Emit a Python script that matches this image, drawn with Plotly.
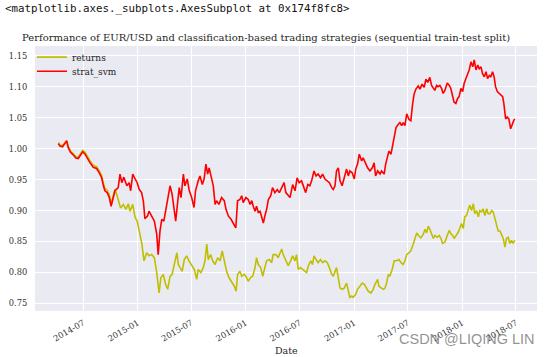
import pandas as pd
import plotly.graph_objects as go

base_date = "2014-07-01"

# strat_svm: (days after 2014-07-01, value)
svm_days = [-84, -79, -70, -62, -56, -51, -43, -34, -25, -17, -9, -2, 6, 14, 23, 34, 45, 54, 62, 68,
            73, 81, 88, 94, 99, 107, 118, 124, 130, 137, 147, 155, 160, 167, 175, 182, 189, 197, 203, 208,
            217, 222, 231, 240, 248, 253, 259, 265, 272, 278, 287, 293, 300, 307, 312, 319, 324, 330, 338, 343,
            351, 358, 366, 374, 379, 388, 394, 402, 408, 414, 420, 425, 433, 439, 445, 450, 458, 467, 476, 482,
            490, 499, 506, 515, 521, 529, 535, 540, 549, 557, 563, 569, 574, 580, 585, 591, 597, 602, 608, 613,
            619, 625, 633, 639, 647, 655, 662, 670, 678, 684, 692, 698, 707, 715, 722, 729, 737, 743, 751, 758,
            765, 771, 779, 786, 793, 801, 808, 816, 824, 831, 839, 844, 850, 855, 861, 867, 874, 881, 889, 895,
            900, 908, 915, 920, 926, 932, 940, 945, 953, 960, 968, 976, 982, 987, 994, 1002, 1007, 1016, 1021, 1028,
            1032, 1039, 1043, 1050, 1056, 1063, 1069, 1075, 1080, 1086, 1092, 1100, 1106, 1112, 1117, 1123, 1131, 1137, 1144, 1151,
            1157, 1163, 1170, 1176, 1182, 1187, 1193, 1198, 1204, 1210, 1215, 1221, 1229, 1236, 1241, 1247, 1252, 1258, 1264, 1269,
            1275, 1281, 1286, 1292, 1298, 1303, 1309, 1315, 1320, 1326, 1332, 1337, 1343, 1348, 1354, 1360, 1365, 1371, 1376, 1382,
            1387, 1392, 1398, 1404, 1410, 1416, 1420, 1426, 1431, 1437, 1443, 1448, 1454, 1457]
svm_vals = [1.008, 1.004, 1.003, 1.008, 1.0125, 1.002, 0.994, 0.990, 0.985, 0.984, 0.989, 0.995, 0.991, 0.984, 0.977, 0.970, 0.968, 0.961, 0.953, 0.940,
            0.932, 0.929, 0.921, 0.907, 0.918, 0.932, 0.937, 0.959, 0.945, 0.954, 0.940, 0.945, 0.932, 0.959, 0.951, 0.945, 0.934, 0.929, 0.915, 0.887,
            0.891, 0.899, 0.891, 0.883, 0.862, 0.829, 0.867, 0.886, 0.883, 0.899, 0.926, 0.940, 0.926, 0.905, 0.883, 0.915, 0.937, 0.921, 0.959, 0.940,
            0.951, 0.932, 0.921, 0.905, 0.932, 0.948, 0.956, 0.942, 0.951, 0.975, 0.959, 0.969, 0.953, 0.940, 0.910, 0.916, 0.910, 0.921, 0.916, 0.902,
            0.891, 0.886, 0.880, 0.872, 0.916, 0.918, 0.924, 0.913, 0.921, 0.918, 0.910, 0.916, 0.907, 0.899, 0.907, 0.897, 0.899, 0.889, 0.880, 0.891,
            0.902, 0.918, 0.924, 0.937, 0.929, 0.934, 0.929, 0.937, 0.945, 0.929, 0.924, 0.921, 0.942, 0.932, 0.953, 0.945, 0.948, 0.940, 0.929, 0.942,
            0.940, 0.948, 0.964, 0.956, 0.959, 0.953, 0.959, 0.951, 0.948, 0.945, 0.937, 0.934, 0.940, 0.964, 0.969, 0.948, 0.940, 0.953, 0.967, 0.956,
            0.964, 0.961, 0.951, 0.967, 0.975, 0.991, 0.980, 0.985, 0.977, 0.969, 0.964, 0.969, 0.977, 0.956, 0.964, 0.959, 0.964, 0.959, 0.975, 0.988,
            0.996, 0.991, 1.002, 1.018, 1.034, 1.039, 1.042, 1.037, 1.042, 1.037, 1.056, 1.047, 1.045, 1.072, 1.088, 1.096, 1.101, 1.096, 1.104, 1.099,
            1.112, 1.107, 1.115, 1.102, 1.097, 1.094, 1.102, 1.100, 1.102, 1.097, 1.089, 1.094, 1.106, 1.102, 1.097, 1.084, 1.075, 1.073, 1.081, 1.084,
            1.097, 1.092, 1.105, 1.113, 1.121, 1.127, 1.140, 1.132, 1.143, 1.127, 1.135, 1.129, 1.132, 1.121, 1.116, 1.124, 1.113, 1.118, 1.116, 1.124,
            1.116, 1.100, 1.092, 1.089, 1.086, 1.084, 1.073, 1.048, 1.051, 1.048, 1.032, 1.040, 1.046, 1.048]

# returns: (days after 2014-07-01, value)
ret_days = [-84, -79, -70, -62, -56, -51, -43, -34, -25, -17, -9, -2, 6, 14, 23, 34, 45, 54, 62, 68,
            73, 81, 88, 94, 99, 107, 113, 118, 126, 135, 144, 152, 158, 167, 175, 182, 191, 198, 205, 208,
            214, 222, 231, 240, 248, 256, 262, 270, 278, 285, 293, 300, 310, 316, 321, 326, 334, 341, 349, 357,
            366, 375, 383, 388, 397, 405, 411, 417, 422, 430, 437, 445, 454, 462, 469, 476, 484, 492, 501, 510,
            516, 521, 529, 535, 543, 549, 557, 565, 572, 580, 585, 591, 599, 606, 613, 619, 628, 636, 641, 651,
            658, 664, 670, 675, 684, 692, 700, 707, 715, 720, 726, 734, 741, 748, 754, 760, 768, 774, 779, 786,
            793, 801, 808, 816, 824, 831, 839, 844, 850, 855, 861, 867, 874, 881, 889, 895, 900, 906, 911, 920,
            926, 934, 942, 949, 957, 962, 971, 979, 985, 994, 998, 1005, 1013, 1019, 1024, 1030, 1035, 1043, 1050, 1058,
            1066, 1073, 1080, 1086, 1092, 1100, 1106, 1112, 1120, 1126, 1133, 1140, 1148, 1154, 1159, 1165, 1170, 1176, 1182, 1187,
            1195, 1202, 1208, 1213, 1221, 1229, 1236, 1241, 1247, 1252, 1260, 1266, 1271, 1277, 1283, 1288, 1294, 1299, 1305, 1311,
            1317, 1322, 1328, 1334, 1339, 1345, 1350, 1356, 1362, 1367, 1373, 1379, 1384, 1390, 1396, 1401, 1407, 1412, 1418, 1424,
            1429, 1435, 1440, 1446, 1451, 1457]
ret_vals = [1.010, 1.006, 1.005, 1.009, 1.013, 1.004, 0.996, 0.992, 0.987, 0.986, 0.991, 0.997, 0.994, 0.987, 0.980, 0.973, 0.971, 0.964, 0.957, 0.944,
            0.936, 0.933, 0.925, 0.911, 0.921, 0.934, 0.926, 0.918, 0.904, 0.910, 0.902, 0.911, 0.899, 0.910, 0.889, 0.883, 0.862, 0.846, 0.819, 0.824,
            0.832, 0.827, 0.829, 0.824, 0.800, 0.767, 0.792, 0.797, 0.781, 0.773, 0.794, 0.797, 0.819, 0.832, 0.813, 0.808, 0.802, 0.821, 0.827, 0.819,
            0.813, 0.805, 0.789, 0.805, 0.800, 0.808, 0.819, 0.846, 0.821, 0.829, 0.819, 0.813, 0.824, 0.819, 0.835, 0.819, 0.802, 0.792, 0.786, 0.778,
            0.770, 0.797, 0.802, 0.794, 0.797, 0.794, 0.786, 0.792, 0.794, 0.808, 0.824, 0.813, 0.808, 0.794, 0.808, 0.819, 0.821, 0.816, 0.829, 0.829,
            0.824, 0.832, 0.838, 0.829, 0.819, 0.811, 0.819, 0.827, 0.819, 0.829, 0.805, 0.808, 0.805, 0.802, 0.800, 0.811, 0.819, 0.813, 0.827, 0.821,
            0.816, 0.821, 0.816, 0.819, 0.816, 0.808, 0.797, 0.794, 0.804, 0.808, 0.792, 0.775, 0.773, 0.775, 0.783, 0.770, 0.760, 0.762, 0.760, 0.765,
            0.773, 0.778, 0.783, 0.781, 0.775, 0.770, 0.767, 0.773, 0.781, 0.789, 0.778, 0.775, 0.773, 0.775, 0.783, 0.797, 0.794, 0.805, 0.819, 0.819,
            0.821, 0.816, 0.813, 0.819, 0.829, 0.832, 0.835, 0.843, 0.854, 0.864, 0.859, 0.856, 0.862, 0.870, 0.864, 0.875, 0.870, 0.863, 0.855, 0.860,
            0.857, 0.860, 0.855, 0.847, 0.849, 0.860, 0.868, 0.863, 0.860, 0.855, 0.860, 0.865, 0.871, 0.879, 0.871, 0.890, 0.892, 0.900, 0.909, 0.900,
            0.911, 0.895, 0.900, 0.890, 0.900, 0.898, 0.903, 0.892, 0.903, 0.895, 0.895, 0.900, 0.898, 0.887, 0.878, 0.867, 0.867, 0.860, 0.855, 0.841,
            0.855, 0.857, 0.847, 0.852, 0.847, 0.852]

y_ticks = [0.75, 0.80, 0.85, 0.90, 0.95, 1.00, 1.05, 1.10, 1.15]
x_range = ["2014-01-19", "2018-09-10"]
y_range = [0.738, 1.1656]

base = pd.Timestamp(base_date)
svm_dates = base + pd.to_timedelta(svm_days, unit="D")
ret_dates = base + pd.to_timedelta(ret_days, unit="D")

SERIF = "DejaVu Serif"
TXT = "#262626"
fig = go.Figure()
fig.add_trace(go.Scatter(x=ret_dates, y=ret_vals, mode="lines", name="returns",
                         line=dict(color="#BFBF00", width=1.6), legend="legend"))
fig.add_trace(go.Scatter(x=svm_dates, y=svm_vals, mode="lines", name="strat_svm",
                         line=dict(color="#FF0000", width=1.6), legend="legend2"))

leg_common = dict(xanchor="left", yanchor="middle", bgcolor="rgba(0,0,0,0)",
                  font=dict(family=SERIF, size=9, color=TXT), itemwidth=30)

fig.update_layout(
    width=552, height=357,
    margin=dict(l=35, r=15, t=46, b=46, autoexpand=False),
    paper_bgcolor="white", plot_bgcolor="#EAEAF2",
    showlegend=True,
    legend=dict(x=-0.006, y=0.958, **leg_common),
    legend2=dict(x=-0.006, y=0.905, **leg_common),
    xaxis=dict(range=x_range, type="date", tick0="2014-07-01", dtick="M6", tickformat="%Y-%m",
               tickangle=-30, showgrid=True, gridcolor="white", gridwidth=1, zeroline=False,
               showline=False, ticks="outside", ticklen=3, tickcolor="rgba(0,0,0,0)", automargin=False,
               tickfont=dict(family=SERIF, size=8.3, color="#333333")),
    yaxis=dict(range=y_range, tickvals=y_ticks, tickformat=".2f", showgrid=True, gridcolor="white",
               gridwidth=1, zeroline=False, showline=False, ticks="outside", ticklen=5,
               tickcolor="rgba(0,0,0,0)", automargin=False,
               tickfont=dict(family=SERIF, size=8.3, color="#333333")),
    annotations=[
        dict(text="&lt;matplotlib.axes._subplots.AxesSubplot at 0x174f8fc8&gt;", xref="paper", yref="paper",
             x=-0.0637, y=1.0, xanchor="left", yanchor="middle", yshift=38, showarrow=False,
             font=dict(family="DejaVu Sans Mono", size=10.8, color="#111111")),
        dict(text="Performance of EUR/USD and classification-based trading strategies (sequential train-test split)",
             xref="paper", yref="paper", x=0.46, y=1.0, yshift=9, xanchor="center", yanchor="middle",
             showarrow=False, font=dict(family=SERIF, size=10, color=TXT)),
        dict(text="Date", xref="paper", yref="paper", x=0.5, y=0, yshift=-39, xanchor="center",
             yanchor="middle", showarrow=False, font=dict(family=SERIF, size=9.5, color=TXT)),
        dict(text="CSDN @LIQING LIN", xref="paper", yref="paper", x=1.0, y=0, yshift=-28,
             xanchor="right", yanchor="middle", showarrow=False,
             font=dict(family="Liberation Sans", size=14.5, color="rgba(110,110,110,0.75)")),
    ],
)
fig.write_html("out.html", config={"displayModeBar": False},
               post_script="document.body.style.margin='0';")
